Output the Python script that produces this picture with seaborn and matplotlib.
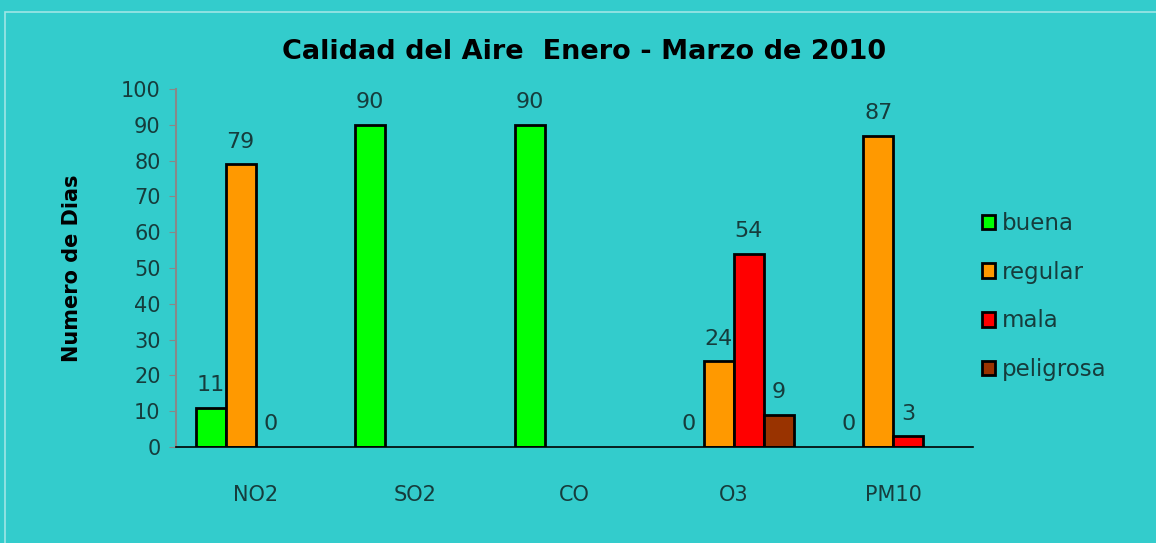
import numpy as np
import pandas as pd
import matplotlib.pyplot as plt
import seaborn as sns
from matplotlib.patches import Rectangle

# Data
contaminantes = ["NO2", "SO2", "CO", "O3", "PM10"]
calidades = ["buena", "regular", "mala", "peligrosa"]
buena = [11, 90, 90, 0, 0]
regular = [79, np.nan, np.nan, 24, 87]
mala = [0, np.nan, np.nan, 54, 3]
peligrosa = [np.nan, np.nan, np.nan, 9, np.nan]

colores = ["#00FF00", "#FF9900", "#FF0000", "#993300"]
fondo = "#33CCCC"
texto = "#163c3c"

df = pd.DataFrame({
    "Contaminante": contaminantes * 4,
    "Calidad": [c for c in calidades for _ in contaminantes],
    "Dias": buena + regular + mala + peligrosa,
})
df = df.dropna()

sns.set_style("white")
plt.rcParams['font.family'] = ['DejaVu Sans']

fig = plt.figure(figsize=(11.56, 5.43), dpi=100, facecolor=fondo)
ax = fig.add_axes([0.1522, 0.1768, 0.6895, 0.6593])
ax.set_facecolor(fondo)

sns.barplot(
    data=df, x="Contaminante", y="Dias", hue="Calidad",
    order=contaminantes, hue_order=calidades,
    palette=colores, width=0.75, edgecolor="black", linewidth=2,
    saturation=1, errorbar=None, ax=ax
)

for c in ax.containers:
    for b in c:
        if b.get_height() == 0:
            b.set_linewidth(0)
    ax.bar_label(c, fmt="%d", padding=9, fontsize=16, color=texto)

ax.set_ylim(0, 100)
ax.set_xlim(-0.5, 4.5)
ax.set_yticks(range(0, 101, 10))
ax.tick_params(axis="y", left=True, length=5, color="#888888",
               labelsize=15, labelcolor=texto, pad=6)
ax.tick_params(axis="x", bottom=False, labelsize=15, labelcolor=texto, pad=24)

for s in ["top", "right"]:
    ax.spines[s].set_visible(False)
ax.spines["left"].set_color("#888888")
ax.spines["left"].set_linewidth(1.5)
ax.spines["bottom"].set_color("black")
ax.spines["bottom"].set_linewidth(1.2)

ax.set_xlabel("")
ax.set_ylabel("Numero de Dias", fontsize=15, fontweight="bold", color="black",
              labelpad=28)

fig.text(0.505, 0.905, "Calidad del Aire  Enero - Marzo de 2010",
         ha="center", va="center", fontsize=19.5, fontweight="bold", color="black")

leg = ax.legend(loc="center left", bbox_to_anchor=(0.985, 0.42), frameon=False,
                fontsize=16.5, handlelength=0.6, handleheight=0.6,
                handletextpad=0.3, labelspacing=1.12, labelcolor=texto)
for h in leg.legend_handles:
    h.set_edgecolor("black")
    h.set_linewidth(2)

# light border of the slide area
fig.patches.append(Rectangle((5 / 1156, -0.1), 1.2, (531 / 543) + 0.1,
                             transform=fig.transFigure, fill=False,
                             edgecolor="#9ee6e6", linewidth=1.2))

fig.savefig("out.png", dpi=100, facecolor=fondo)
